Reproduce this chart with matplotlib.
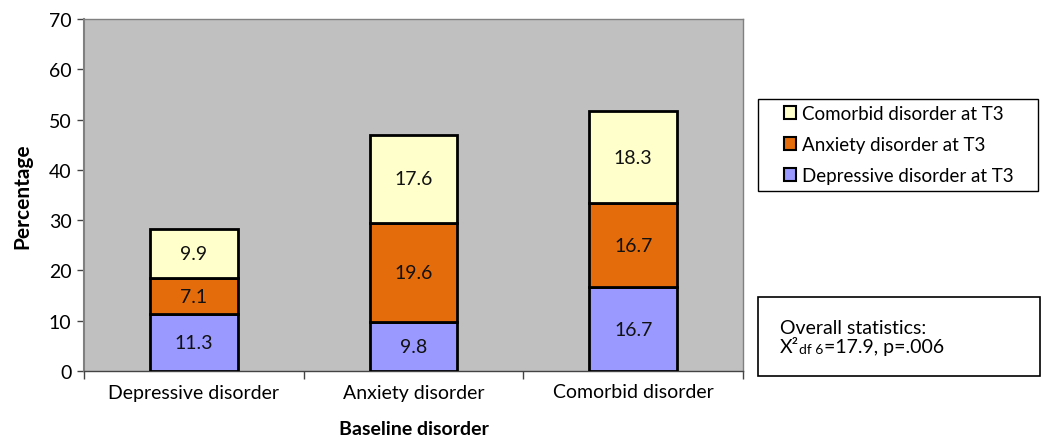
import matplotlib
matplotlib.use("Agg")
import matplotlib.pyplot as plt
from matplotlib.patches import Patch, Rectangle
import numpy as np

categories = ["Depressive disorder", "Anxiety disorder", "Comorbid disorder"]
depressive = [11.3, 9.8, 16.7]
anxiety = [7.1, 19.6, 16.7]
comorbid = [9.9, 17.6, 18.3]
series_names = ["Depressive disorder at T3", "Anxiety disorder at T3", "Comorbid disorder at T3"]
colors = ["#9999FF", "#E46C0A", "#FFFFCC"]
yticks = [0, 10, 20, 30, 40, 50, 60, 70]

plt.rcParams['font.family'] = ['Lato', 'DejaVu Sans']

fig = plt.figure(figsize=(10.44, 4.39), dpi=100)
ax = fig.add_axes([84/1044, 1-372/439, (743-84)/1044, (372-20)/439])
ax.set_facecolor("#C0C0C0")

x = np.arange(len(categories))
bottom = np.zeros(len(categories))
handles = []
for vals, name, col in zip([depressive, anxiety, comorbid], series_names, colors):
    ax.bar(x, vals, width=0.4, bottom=bottom, color=col, edgecolor="black", linewidth=2, zorder=3)
    for xi, b, v in zip(x, bottom, vals):
        ax.text(xi, b + v/2, f"{v:.1f}", ha="center", va="center", fontsize=14, color="#111111", zorder=4)
    bottom = bottom + np.array(vals)
    handles.append(Patch(facecolor=col, edgecolor="black", linewidth=1.5, label=name))

ax.set_xlim(-0.5, len(categories)-0.5)
ax.set_ylim(0, 70)
ax.set_yticks(yticks)
ax.set_yticklabels([str(t) for t in yticks], fontsize=14)
ax.set_xticks(x)
ax.set_xticklabels(categories, fontsize=14)
ax.tick_params(axis='x', length=0, pad=9)
ax.tick_params(axis='y', length=5, direction='out', width=1, color="#444444", pad=4)
ax.set_xticks(np.arange(-0.5, len(categories)), minor=True)
ax.tick_params(axis='x', which='minor', length=6, direction='out', color="#444444", width=1)

for s in ["top", "right"]:
    ax.spines[s].set_color("#808080")
    ax.spines[s].set_linewidth(1)
ax.spines["left"].set_color("#808080")
ax.spines["left"].set_linewidth(1.5)
ax.spines["bottom"].set_color("#444444")
ax.spines["bottom"].set_linewidth(1)

ax.set_ylabel("Percentage", fontsize=15, fontweight="bold", labelpad=12)
ax.set_xlabel("Baseline disorder", fontsize=14, fontweight="bold", labelpad=14)

# legend frame
fig.patches.append(Rectangle((758/1044, 1-192/439), (1038-758)/1044, (192-100)/439,
                             transform=fig.transFigure, facecolor="white", edgecolor="black", linewidth=1))
leg = fig.legend(handles=handles[::-1], loc="upper left",
                 bbox_to_anchor=(784/1044, 1-106/439),
                 fontsize=13.5, frameon=False,
                 handlelength=0.65, handleheight=0.65, handletextpad=0.3,
                 borderpad=0, labelspacing=0.75, borderaxespad=0)

fig.patches.append(Rectangle((758/1044, 1-377/439), (1040-758)/1044, (377-298)/439,
                             transform=fig.transFigure, facecolor="white", edgecolor="black", linewidth=1.2))
fig.text(780/1044, 1-334/439, "Overall statistics:", fontsize=14, va="baseline", ha="left")
t1 = fig.text(780/1044, 1-353/439, "X²", fontsize=14, va="baseline", ha="left")
fig.canvas.draw()
r = fig.canvas.get_renderer()
b1 = t1.get_window_extent(r)
t2 = fig.text(b1.x1 / fig.bbox.width, t1.get_position()[1] - 1/439, "df 6", fontsize=10,
              va="baseline", ha="left")
fig.canvas.draw()
b2 = t2.get_window_extent(r)
fig.text(b2.x1 / fig.bbox.width, t1.get_position()[1], "=17.9, p=.006", fontsize=14,
         va="baseline", ha="left")

fig.savefig("out.png", dpi=100)
